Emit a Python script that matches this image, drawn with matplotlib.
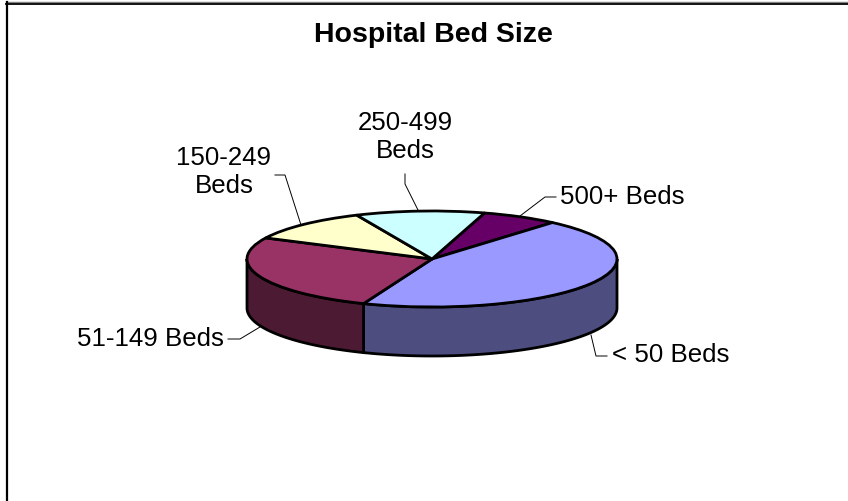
import numpy as np
import matplotlib
matplotlib.use("Agg")
import matplotlib.pyplot as plt
from matplotlib.patches import Wedge, Polygon
from matplotlib.transforms import Affine2D

plt.rcParams['font.family'] = ['Liberation Sans', 'DejaVu Sans']

# clockwise from the top of the pie
categories = ['500+ Beds', '< 50 Beds', '51-149 Beds', '150-249 Beds', '250-499 Beds']
shares = [6.7, 44.75, 26.2, 11.1, 11.25]
top_colors = ['#660066', '#9999FF', '#993366', '#FFFFCC', '#CCFFFF']
side_colors = ['#330033', '#4D4D80', '#4D1A33', '#808066', '#668080']

start_angle = 16.5    # degrees clockwise from 12 o'clock, first slice starts here
cx, cy = 432, 259     # pie centre in pixels
rx, ry = 185, 48
depth = 49
W, H = 848, 501

fig = plt.figure(figsize=(W / 100, H / 100), dpi=100)
ax = fig.add_axes([0, 0, 1, 1])
ax.set_xlim(0, W)
ax.set_ylim(H, 0)   # y runs down, same as the picture
ax.axis('off')

# chart frame, only top and left show
ax.plot([6, W], [2, 2], color='#808080', lw=1.0)
ax.plot([6, W], [3.5, 3.5], color='black', lw=1.3)
ax.plot([6.5, 6.5], [2, H], color='black', lw=1.6)

edges = start_angle + np.cumsum([0] + shares) * 3.6
ell = Affine2D().scale(rx, ry).translate(cx, cy) + ax.transData

# side wall first, y is flipped so angle here runs clockwise from 3 o'clock
for a0, a1, col in zip(edges[:-1] - 90, edges[1:] - 90, side_colors):
    for shift in (-360, 0, 360):
        lo = max(a0 + shift, 0)
        hi = min(a1 + shift, 180)
        if lo >= hi:
            continue
        t = np.radians(np.linspace(lo, hi, 80))
        x = cx + rx * np.cos(t)
        y = cy + ry * np.sin(t)
        pts = np.r_[np.c_[x, y], np.c_[x[::-1], y[::-1] + depth]]
        ax.add_patch(Polygon(pts, closed=True, fc=col, ec='black', lw=2.0, zorder=2))

# top face
for a0, a1, col in zip(edges[:-1] - 90, edges[1:] - 90, top_colors):
    ax.add_patch(Wedge((0, 0), 1, a0, a1, fc=col, ec='black', lw=2.0,
                       transform=ell, zorder=3, joinstyle='round'))

# leader lines
leaders = [
    ([556, 545, 520], [197, 197, 216]),
    ([405, 405, 418], [174, 184, 210]),
    ([275, 285, 301], [175, 175, 225]),
    ([228, 240, 260], [339, 339, 327]),
    ([607, 596, 591], [356, 356, 335]),
]
for xs, ys in leaders:
    ax.plot(xs, ys, color='black', lw=0.7, zorder=1, solid_joinstyle='miter')

fs = 18.6
ax.text(433.5, 35, 'Hospital Bed Size', fontsize=20.5, fontweight='bold',
        ha='center', va='center')
ax.text(560, 197, '500+ Beds', fontsize=fs, ha='left', va='center')
ax.text(405, 137, '250-499\nBeds', fontsize=fs, ha='center', va='center', linespacing=1.25)
ax.text(224, 172, '150-249\nBeds', fontsize=fs, ha='center', va='center', linespacing=1.25)
ax.text(77, 339, '51-149 Beds', fontsize=fs, ha='left', va='center')
ax.text(612, 355, '< 50 Beds', fontsize=fs, ha='left', va='center')

fig.savefig('out.png', dpi=100, facecolor='white')
